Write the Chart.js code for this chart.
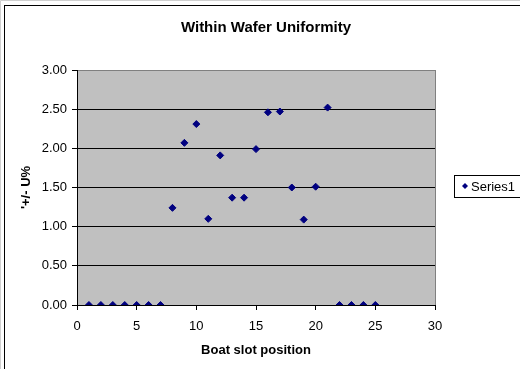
<!DOCTYPE html>
<html>
<head>
<meta charset="utf-8">
<script src="https://cdn.jsdelivr.net/npm/chart.js@4/dist/chart.umd.min.js"></script>
<style>
html,body{margin:0;padding:0;background:#fff;}
canvas{display:block;}
</style>
</head>
<body>
<canvas id="c" width="520" height="369"></canvas>
<script>
const chartTitle = "Within Wafer Uniformity";
const xTitle = "Boat slot position";
const yTitle = "'+/- U%";
const seriesName = "Series1";
const slots = [1,2,3,4,5,6,7,8,9,10,11,12,13,14,15,16,17,18,19,20,21,22,23,24,25];
const uniformity = [0,0,0,0,0,0,0,1.24,2.07,2.31,1.10,1.91,1.37,1.37,1.99,2.46,2.47,1.50,1.09,1.51,2.52,0,0,0,0];

const FONT = "'Liberation Sans', Arial, sans-serif";

const decor = {
  id: 'decor',
  beforeDraw(chart) {
    const {ctx, chartArea: a} = chart;
    ctx.save();
    ctx.strokeStyle = '#d0d0d0';
    ctx.lineWidth = 1;
    ctx.beginPath();
    ctx.moveTo(0.5, 369); ctx.lineTo(0.5, 0.5); ctx.lineTo(520, 0.5);
    ctx.stroke();
    ctx.strokeStyle = '#000';
    ctx.strokeRect(4.5, 5.5, 600, 400);
    ctx.fillStyle = '#C0C0C0';
    ctx.fillRect(a.left, a.top, a.right - a.left, a.bottom - a.top);
    ctx.restore();
  },
  afterDraw(chart) {
    const {ctx, chartArea: a} = chart;
    ctx.save();
    ctx.strokeStyle = '#808080';
    ctx.lineWidth = 1;
    ctx.beginPath();
    ctx.moveTo(Math.round(a.right) + 0.5, a.top);
    ctx.lineTo(Math.round(a.right) + 0.5, a.bottom);
    ctx.stroke();
    ctx.fillStyle = '#000';
    ctx.font = 'bold 15px ' + FONT;
    ctx.textAlign = 'center';
    ctx.textBaseline = 'middle';
    ctx.fillText(chartTitle, 266, 28);
    const ds = chart.data.datasets[0];
    ctx.strokeStyle = '#000';
    ctx.strokeRect(454.5, 175.5, 100, 22);
    ctx.fillStyle = '#000080';
    ctx.beginPath();
    ctx.moveTo(465, 183); ctx.lineTo(468, 186); ctx.lineTo(465, 189); ctx.lineTo(462, 186);
    ctx.closePath(); ctx.fill();
    ctx.fillStyle = '#000';
    ctx.font = '13px ' + FONT;
    ctx.textAlign = 'left';
    ctx.fillText(ds.label, 471, 187);
    ctx.restore();
  }
};

new Chart(document.getElementById('c'), {
  type: 'scatter',
  data: {
    datasets: [{
      label: seriesName,
      data: slots.map((s, i) => ({x: s, y: uniformity[i]})),
      pointStyle: 'rectRot',
      pointRadius: 3.5,
      pointBorderWidth: 1,
      backgroundColor: '#000080',
      borderColor: '#000080'
    }]
  },
  options: {
    responsive: false,
    devicePixelRatio: 1,
    animation: false,
    layout: {padding: {top: 70, right: 85, left: 0, bottom: 0}},
    plugins: {legend: {display: false}, title: {display: false}, tooltip: {enabled: false}},
    scales: {
      x: {
        type: 'linear', min: 0, max: 30,
        afterFit(s) { s.height = 64; },
        ticks: {stepSize: 5, color: '#000', font: {family: FONT, size: 13}, padding: 9, maxRotation: 0},
        grid: {drawOnChartArea: false, drawTicks: true, tickLength: 5, color: '#000', tickColor: '#000'},
        border: {display: true, color: '#000', width: 1},
        title: {display: true, text: xTitle, color: '#000', font: {family: FONT, size: 13, weight: 'bold'}, padding: {top: 0, bottom: 11}}
      },
      y: {
        type: 'linear', min: 0, max: 3,
        afterFit(s) { s.width = 77; },
        ticks: {stepSize: 0.5, color: '#000', font: {family: FONT, size: 13}, padding: 5, callback: v => Number(v).toFixed(2)},
        grid: {drawTicks: true, tickLength: 5, color: ctx => (ctx.tick && ctx.tick.value === 3 ? '#808080' : '#000'), tickColor: '#000'},
        border: {display: true, color: '#000', width: 1},
        title: {display: true, text: yTitle, color: '#000', font: {family: FONT, size: 13, weight: 'bold'}, padding: {top: 19, bottom: 0}}
      }
    }
  },
  plugins: [decor]
});
</script>
</body>
</html>
